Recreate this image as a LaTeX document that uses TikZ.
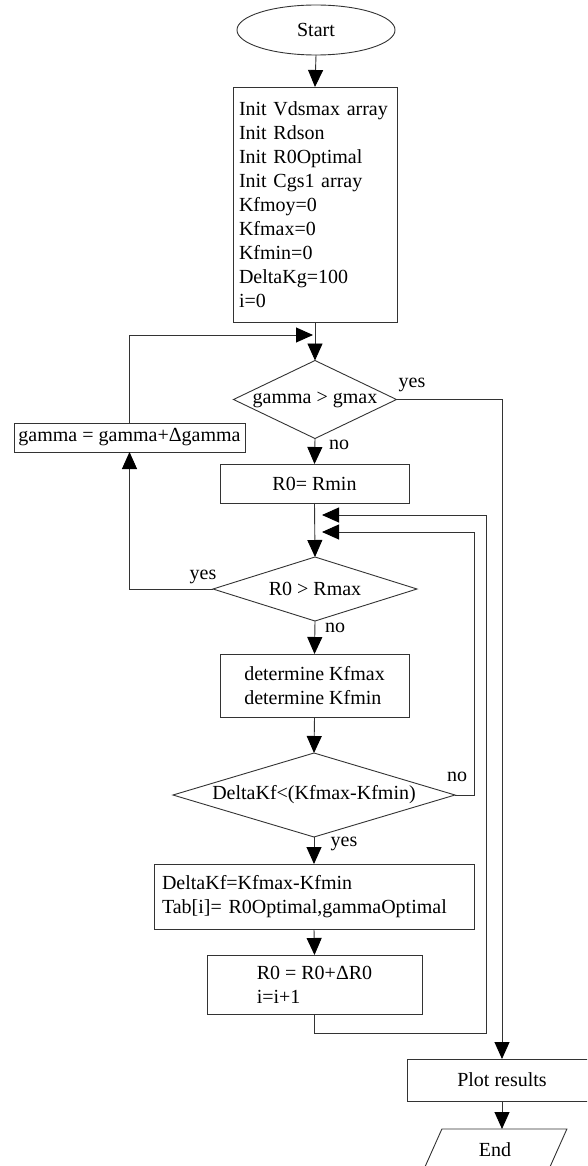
\documentclass[tikz,border=0pt]{standalone}
\usepackage{fontspec}
\setmainfont{Liberation Serif}
\usetikzlibrary{shapes.geometric,arrows.meta}

\begin{document}
\begin{tikzpicture}[x=1pt,y=-1pt,font=\fontsize{20}{24}\selectfont,
  procbox/.style={draw=color0,line width=0.9pt,rectangle,inner sep=0pt,outer sep=0pt},
  decision/.style={draw=color0,line width=0.9pt,diamond,inner sep=0pt,outer sep=0pt},
  flow/.style={color0,line width=0.9pt,-{Triangle[length=17pt,width=15pt,color=black]}},
  tag/.style={inner sep=0pt}]
\definecolor{color0}{HTML}{333333}
\useasboundingbox (0,0) rectangle (587,1166);
\fill[white] (0,0) rectangle (587,1166);
\clip (0,0) rectangle (587,1166);
\node[draw=color0,line width=0.9pt,ellipse,minimum width=158,minimum height=50,inner sep=0pt,outer sep=0pt] (start) at (316,30) {Start};
\node[procbox,minimum width=164,minimum height=235,text width=152,align=left] (init) at (315,204.5) {Init Vdsmax array\\Init Rdson\\Init R0Optimal\\Init Cgs1 array\\Kfmoy=0\\Kfmax=0\\Kfmin=0\\DeltaKg=100\\i=0};
\node[decision,minimum width=163,minimum height=78,aspect=2.09] (g) at (315,399.5) {gamma > gmax};
\node[procbox,minimum width=231,minimum height=29] (gbox) at (129.5,437.5) {gamma = gamma+Δgamma};
\node[procbox,minimum width=189,minimum height=39] (r0) at (314.5,483.5) {R0= Rmin};
\coordinate (join0) at (313,335);
\coordinate (join1) at (322,515);
\coordinate (join2) at (322,532);
\node[decision,minimum width=204,minimum height=64,aspect=3.19] (rc) at (315,589) {R0 > Rmax};
\node[procbox,minimum width=189,minimum height=63,align=left] (det) at (314.5,685.5) {determine Kfmax\\determine Kfmin};
\node[decision,minimum width=282,minimum height=84,aspect=3.36] (dk) at (314,795) {DeltaKf<(Kfmax-Kfmin)};
\node[procbox,minimum width=320,minimum height=65,text width=304,align=left] (upd) at (314,896.5) {DeltaKf=Kfmax-Kfmin\\Tab[i]= R0Optimal,gammaOptimal};
\node[procbox,minimum width=215,minimum height=59,align=left] (inc) at (314.5,984.5) {R0 = R0+ΔR0\\i=i+1};
\node[procbox,minimum width=190,minimum height=42] (plot) at (502,1080) {Plot results};
\node[draw=color0,line width=0.9pt,trapezium,trapezium left angle=68,trapezium right angle=112,trapezium stretches,minimum width=144,minimum height=42,inner sep=0pt,outer sep=0pt] (end) at (495,1150) {End};
\node[tag] (yes1) at (412,385) {yes};
\node[tag] (no1) at (339,445) {no};
\node[tag] (yes2) at (203,577) {yes};
\node[tag] (no2) at (335,628) {no};
\node[tag] (no3) at (457,777) {no};
\node[tag] (yes3) at (344,844) {yes};
\draw[flow] (start.south) -- (init.north);
\draw[flow] (init.south) -- (g.north);
\draw[flow] (gbox.north) |- (join0);
\draw[flow] (g.east) -| (plot.north);
\draw[flow] (g.south) -- (r0.north);
\draw[flow] (r0.south) -- (rc.north);
\draw[flow] (rc.west) -| (gbox.south);
\draw[flow] (rc.south) -- (det.north);
\draw[flow] (det.south) -- (dk.north);
\draw[flow] (dk.east) -- ++(19,0) |- (join2);
\draw[flow] (dk.south) -- (upd.north);
\draw[flow] (upd.south) -- (inc.north);
\draw[flow] (inc.south) |- ++(172,19) |- (join1);
\draw[flow] (plot.south) -- (plot.south |- end.north);
\end{tikzpicture}
\end{document}
